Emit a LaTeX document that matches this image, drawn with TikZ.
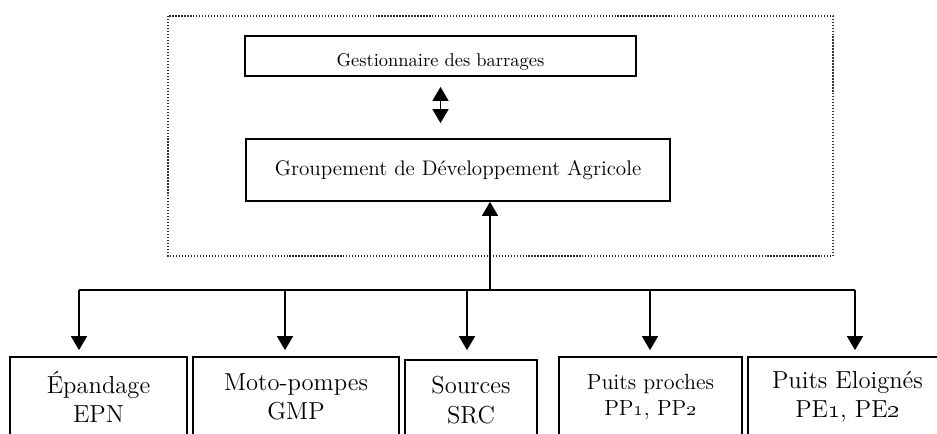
\documentclass[tikz,border=0pt]{standalone}
\usepackage{tikz}
\usetikzlibrary{arrows,arrows.meta,shapes,positioning}

\begin{document}
\begin{tikzpicture}[scale=0.2]
                    \tikzstyle{every node}+=[inner sep=0pt]
                    \tikzstyle{box}=[draw=black, line width=1pt, rectangle, align=center]
                    \tikzstyle{grpframe}=[draw=black!80, line width=0.7pt, densely dotted]
                    \tikzstyle{link}=[black, line width=0.9pt]
                    \tikzstyle{arr}=[link, -{Triangle[length=2.8mm, width=3.2mm]}]
                    \tikzstyle{dblarr}=[link, {Triangle[length=2.8mm, width=3.2mm]}-{Triangle[length=2.8mm, width=3.2mm]}]
                    \tikzstyle{bigtxt}=[font=\fontsize{14}{16.6}\selectfont]
                    \clip (0,0) rectangle (93.7,-43.3);
                    % zone du gestionnaire
                    \draw [grpframe] (16.8,-1.6) rectangle (83.3,-25.6);
                    \node [box, minimum width=7.82cm, minimum height=0.8cm,
                           font=\fontsize{10.5}{12.5}\selectfont, text height=11.5pt, text depth=0pt]
                          (ges) at (44.05,-5.6) {Gestionnaire des barrages};
                    \node [box, minimum width=8.48cm, minimum height=1.24cm,
                           font=\fontsize{12}{14.5}\selectfont]
                          (gda) at (45.8,-17.0) {Groupement de D\'eveloppement Agricole};
                    \draw [dblarr, shorten <=0.2cm, shorten >=0.3cm] (ges.south) -- (ges.south |- gda.north);
                    % ressources en eau
                    \node [box, bigtxt, minimum width=3.54cm, minimum height=1.6cm]
                          (epn) at (9.85,-39.7) {\'Epandage\\EPN};
                    \node [box, bigtxt, minimum width=4.12cm, minimum height=1.6cm]
                          (gmp) at (29.6,-39.7) {Moto-pompes\\GMP};
                    \node [box, bigtxt, minimum width=2.64cm, minimum height=1.6cm]
                          (src) at (47.1,-40.0) {Sources\\SRC};
                    \node [box, font=\fontsize{12.5}{14.5}\selectfont, minimum width=3.66cm, minimum height=1.6cm]
                          (pp) at (65.05,-39.7) {Puits proches\\PP\oldstylenums{1}, PP\oldstylenums{2}};
                    \node [box, bigtxt, minimum width=3.98cm, minimum height=1.6cm]
                          (pe) at (84.75,-39.7) {Puits Eloign\'es\\PE\oldstylenums{1}, PE\oldstylenums{2}};
                    % liaisons
                    \coordinate (hub) at (49.0,-29.0);
                    \coordinate (b1) at (7.9,-29.0);
                    \coordinate (b2) at (28.5,-29.0);
                    \coordinate (b3) at (46.7,-29.0);
                    \coordinate (b4) at (65.0,-29.0);
                    \coordinate (b5) at (85.5,-29.0);
                    \draw [arr] (hub) -- (hub |- gda.south);
                    \draw [link] (b1) -- (b5);
                    \draw [arr, shorten >=0.12cm] (b1) -- (b1 |- epn.north);
                    \draw [arr, shorten >=0.12cm] (b2) -- (b2 |- gmp.north);
                    \draw [arr, shorten >=0.18cm] (b3) -- (b3 |- src.north);
                    \draw [arr, shorten >=0.12cm] (b4) -- (b4 |- pp.north);
                    \draw [arr, shorten >=0.12cm] (b5) -- (b5 |- pe.north);
                \end{tikzpicture}
\end{document}
